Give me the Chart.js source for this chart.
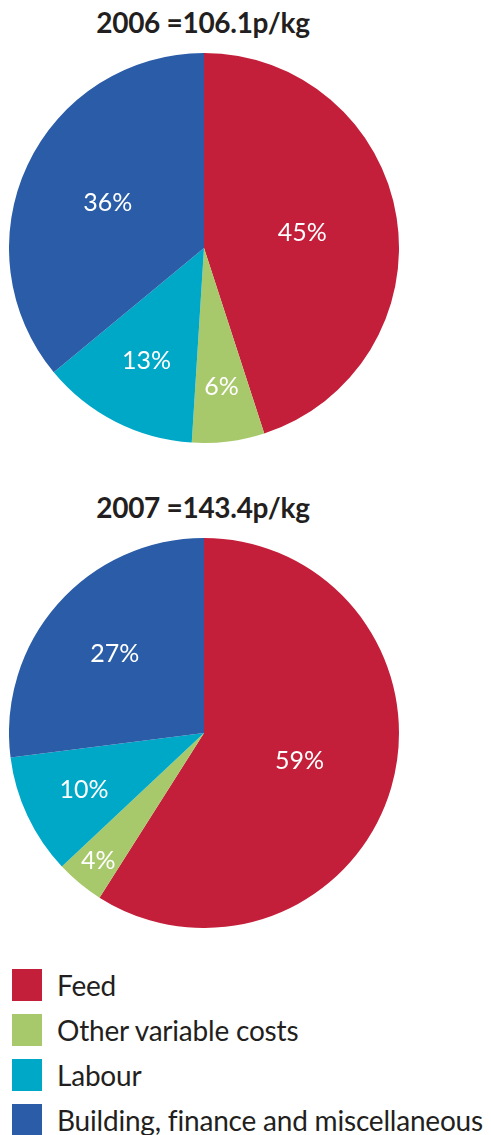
<!DOCTYPE html>
<html>
<head>
<meta charset="utf-8">
<script src="https://cdn.jsdelivr.net/npm/chart.js@4"></script>
<style>
  html, body { margin: 0; padding: 0; background: #fff; }
  body { width: 491px; height: 1135px; position: relative; overflow: hidden; font-family: Lato, "Open Sans", sans-serif; color: #231f20; }
  .title { position: absolute; left: 0; width: 406px; text-align: center; font-weight: bold; font-size: 28px; line-height: 30px; letter-spacing: -0.3px; }
  .pie { position: absolute; left: 9px; width: 390px; height: 390px; }
  .legend { position: absolute; left: 12px; top: 962px; }
  .legend .row { display: flex; align-items: center; height: 45px; }
  .legend .sw { width: 30px; height: 32px; margin-right: 15px; flex: none; }
  .legend .tx { font-size: 28px; letter-spacing: -0.2px; white-space: nowrap; }
</style>
</head>
<body>
<div class="title" id="t1" style="top:7px"></div>
<div class="pie" style="top:53px"><canvas id="c1"></canvas></div>
<div class="title" id="t2" style="top:492px"></div>
<div class="pie" style="top:538px"><canvas id="c2"></canvas></div>
<div class="legend" id="legend"></div>
<script>
const categories = ["Feed", "Other variable costs", "Labour", "Building, finance and miscellaneous"];
const values2006 = [45, 6, 13, 36];
const values2007 = [59, 4, 10, 27];
const titles = ["2006 =106.1p/kg", "2007 =143.4p/kg"];
const colors = ["#c41f3a", "#a8c96b", "#00a8c8", "#2a5ca7"];
const labelRadius2006 = [0.51, 0.72, 0.65, 0.545];
const labelRadius2007 = [0.51, 0.85, 0.68, 0.61];

document.getElementById('t1').textContent = titles[0];
document.getElementById('t2').textContent = titles[1];

const lg = document.getElementById('legend');
categories.forEach((c, i) => {
  const r = document.createElement('div'); r.className = 'row';
  const s = document.createElement('div'); s.className = 'sw'; s.style.background = colors[i];
  const t = document.createElement('div'); t.className = 'tx'; t.textContent = c;
  r.appendChild(s); r.appendChild(t); lg.appendChild(r);
});

const pctLabels = {
  id: 'pctLabels',
  afterDatasetsDraw(chart, args, opts) {
    const ctx = chart.ctx;
    const meta = chart.getDatasetMeta(0);
    const data = chart.data.datasets[0].data;
    ctx.save();
    ctx.fillStyle = '#ffffff';
    ctx.font = '25px Lato, "Open Sans", sans-serif';
    ctx.textAlign = 'center';
    ctx.textBaseline = 'middle';
    meta.data.forEach((arc, i) => {
      const p = arc.getProps(['x', 'y', 'startAngle', 'endAngle', 'outerRadius'], true);
      const mid = (p.startAngle + p.endAngle) / 2;
      const r = p.outerRadius * opts.radii[i];
      ctx.fillText(data[i] + '%', p.x + Math.cos(mid) * r, p.y + Math.sin(mid) * r);
    });
    ctx.restore();
  }
};

function makePie(id, values, radii) {
  new Chart(document.getElementById(id), {
    type: 'pie',
    data: { labels: categories, datasets: [{ data: values, backgroundColor: colors, borderWidth: 0 }] },
    options: {
      responsive: true, maintainAspectRatio: false, animation: false,
      layout: { padding: 0 },
      plugins: { legend: { display: false }, tooltip: { enabled: false }, pctLabels: { radii: radii } }
    },
    plugins: [pctLabels]
  });
}
makePie('c1', values2006, labelRadius2006);
makePie('c2', values2007, labelRadius2007);
</script>
</body>
</html>
